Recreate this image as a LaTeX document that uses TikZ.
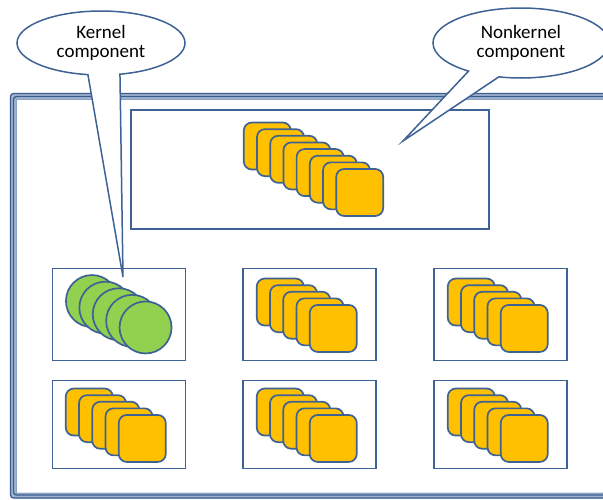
\documentclass[tikz,border=0pt]{standalone}
\usepackage{fontspec}
\setmainfont{Carlito}
\usepackage{tikz}
\usetikzlibrary{
  shapes.callouts,
  matrix,
  calc
}
\definecolor{framedark}{RGB}{58,95,143}
\definecolor{framelight}{RGB}{160,180,208}
\definecolor{shapeline}{RGB}{62,98,148}
\definecolor{tileyellow}{RGB}{255,192,0}
\definecolor{coregreen}{RGB}{146,208,80}

\begin{document}
\begin{tikzpicture}[
      x=1pt,y=-1pt,
      unitbox/.style={
         rectangle,
         minimum width=133pt,
         minimum height=#1,
         inner sep=0pt,
         line width=1.5pt,
         draw=shapeline
      },
      tile/.style={
         rectangle,
         rounded corners=8pt,
         minimum size=47pt,
         inner sep=0pt,
         line width=1.7pt,
         draw=shapeline,
         fill=tileyellow
      },
      core/.style={
         circle,
         minimum size=52pt,
         inner sep=0pt,
         line width=1.7pt,
         draw=shapeline,
         fill=coregreen
      },
      note/.style={
         ellipse callout,
         callout pointer arc=22,
         inner sep=0pt,
         line width=1.5pt,
         draw=shapeline,fill=white,
         align=center,
         font=\fontsize{19}{19.4}\selectfont
      },
      framerim/.style={rounded corners=3pt,draw=framedark}
    ]
    \useasboundingbox (0,0) rectangle (603,499);
    % outer frame
    \draw [framerim, line width=6pt, draw=framelight] (13,96) rectangle (606,495.5);
    \draw [framerim, line width=1.3pt] (10.5,93.5) rectangle (609,498);
    \draw [framerim, line width=1.3pt] (13.5,96.5) rectangle (606,495);
    \draw [line width=0.8pt, draw=framelight!80!framedark] (16.5,99.5) rectangle (604,493.5);
    % nonkernel pool
    \node (pool) [unitbox=119pt, minimum width=358pt, anchor=north west] at (130,109) {};
    \foreach \i in {0,...,7}
       \node (p\i) [tile] at ($(pool.center)+({3.75+(\i-3.5)*13.2},{(\i-3.5)*6.64})$) {};
    % six units
    \matrix (units) [column sep=56.5pt, row sep=18.5pt, inner sep=0pt, anchor=north west] at (51.3,267.3) {
 \node (u11) [unitbox=92pt] {}; & \node (u12) [unitbox=92pt] {}; & \node (u13) [unitbox=92pt] {}; \\
 \node (u21) [unitbox=88pt] {}; & \node (u22) [unitbox=88pt] {}; & \node (u23) [unitbox=88pt] {}; \\
    };
    \foreach \i in {0,...,4}
       \node (k\i) [core] at ($(u11.center)+({(\i-2)*13.4},{(\i-2)*6.6})$) {};
    \foreach \b in {u12,u13,u21,u22,u23}
       \foreach \i in {0,...,4}
          \node (\b-\i) [tile] at ($(\b.center)+({-3+(\i-2)*13.25},{1+(\i-2)*6.6})$) {};
    % callouts
    \coordinate (ktip) at (123,277);
    \coordinate (ntip) at (403,141);
    \node (kernel) [note, callout absolute pointer=(ktip), minimum width=168pt, minimum height=64pt] at (101,43) {Kernel\\component};
    \node (nonkernel) [note, callout absolute pointer=(ntip), minimum width=176pt, minimum height=70pt] at (521,43) {Nonkernel\\component};
\end{tikzpicture}
\end{document}
